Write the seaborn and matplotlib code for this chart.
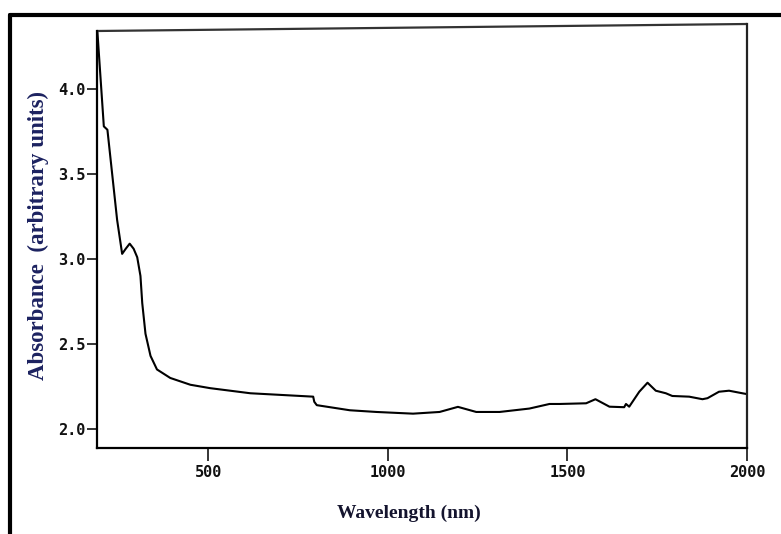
import numpy as np
import pandas as pd
import matplotlib
matplotlib.use("Agg")
import matplotlib.pyplot as plt
from matplotlib.lines import Line2D
import seaborn as sns

# Absorption spectrum (wavelength in nm, absorbance in arbitrary units)
wavelength = [191, 209, 219, 246, 260, 270, 281, 292, 302, 311, 316, 325, 339, 357,
              394, 450, 505, 617, 792, 795, 802, 894, 968, 1070, 1144, 1195, 1246,
              1311, 1394, 1450, 1478, 1552, 1578, 1617, 1658, 1663, 1672, 1700, 1723,
              1746, 1774, 1792, 1839, 1876, 1890, 1922, 1950, 1987, 2000]
absorbance = [4.34, 3.78, 3.76, 3.23, 3.03, 3.06, 3.09, 3.06, 3.01, 2.90, 2.74, 2.56,
              2.43, 2.35, 2.30, 2.26, 2.24, 2.21, 2.19, 2.16, 2.14, 2.11, 2.10, 2.09,
              2.10, 2.13, 2.10, 2.10, 2.12, 2.147, 2.147, 2.151, 2.175, 2.131, 2.128,
              2.147, 2.131, 2.219, 2.272, 2.225, 2.21, 2.194, 2.19, 2.175, 2.181,
              2.219, 2.225, 2.21, 2.205]

x_ticks = [500, 1000, 1500, 2000]
y_ticks = [2.0, 2.5, 3.0, 3.5, 4.0]

df = pd.DataFrame({"Wavelength": wavelength, "Absorbance": absorbance})

sns.set_style("white")
plt.rcParams["font.family"] = ["DejaVu Sans"]

fig = plt.figure(figsize=(7.81, 5.34), dpi=100)
ax = fig.add_axes([97 / 781, 1 - 448 / 534, 650 / 781, 424 / 534])

sns.lineplot(data=df, x="Wavelength", y="Absorbance", sort=False, estimator=None,
             color="black", linewidth=1.5, ax=ax)

y_lo, y_hi = 1.888, 1.888 + 424 / 170
ax.set_xlim(190, 2000)
ax.set_ylim(y_lo, y_hi)
ax.set_xticks(x_ticks)
ax.set_yticks(y_ticks)
ax.set_xticklabels([str(t) for t in x_ticks])
ax.set_yticklabels([f"{t:.1f}" for t in y_ticks])

for lab in ax.get_xticklabels() + ax.get_yticklabels():
    lab.set_fontfamily("DejaVu Sans Mono")
    lab.set_fontweight("bold")
    lab.set_fontsize(11)
    lab.set_color("#111111")

ax.tick_params(axis="x", direction="out", length=9, width=1.3, pad=3, bottom=True)
ax.tick_params(axis="y", direction="out", length=7, width=1.3, pad=1, left=True)

for side in ["left", "bottom"]:
    ax.spines[side].set_linewidth(1.6)
    ax.spines[side].set_color("black")
ax.spines["left"].set_bounds(y_lo, y_hi - 7 / 170)
ax.spines["right"].set_linewidth(1.6)
ax.spines["right"].set_color("#222222")
ax.spines["top"].set_visible(False)
# slightly tilted top border of the plotting frame
ax.add_line(Line2D([0, 1], [1 - 7 / 424, 1], transform=ax.transAxes,
                   color="#333333", linewidth=1.6, clip_on=False))

ax.set_xlabel("")
ax.set_ylabel("")
fig.text(409 / 781, 1 - 513 / 534, "Wavelength (nm)", ha="center", va="center",
         family="Liberation Serif", weight="bold", size=14, color="#14142e")
fig.text(38 / 781, 1 - 235 / 534, "Absorbance  (arbitrary units)", ha="center",
         va="center", rotation=90, family="Liberation Serif", weight="bold",
         size=16.5, color="#1c2260")

# outer frame around the figure panel
fig.add_artist(Line2D([10 / 781, 10 / 781], [1 - 15 / 534, -0.05],
                      transform=fig.transFigure, color="black", linewidth=3))
fig.add_artist(Line2D([10 / 781, 1.05], [1 - 15 / 534, 1 - 15 / 534],
                      transform=fig.transFigure, color="black", linewidth=3))

fig.savefig("out.png", dpi=100)
